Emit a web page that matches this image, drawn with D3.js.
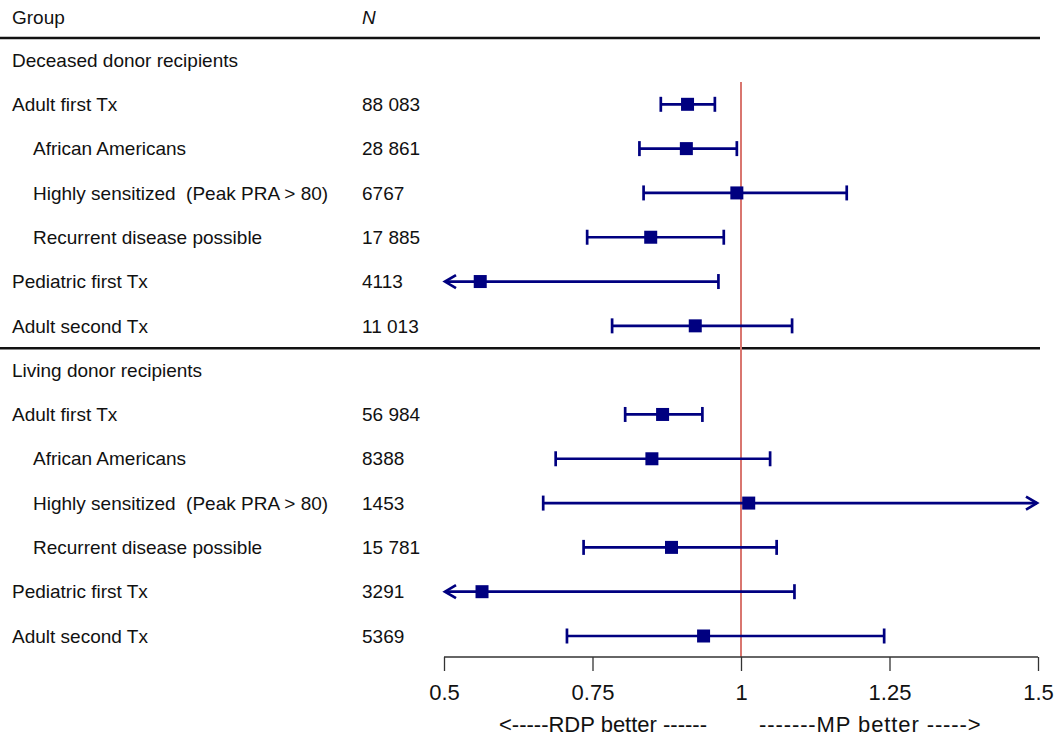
<!DOCTYPE html>
<html>

<head>
    <meta charset="utf-8" />
    <script src="https://d3js.org/d3.v7.min.js"></script>
    <style>
        body {
            margin: 0;
            background: #fff;
        }

        text {
            font-family: "Liberation Sans", Arial, sans-serif;
            fill: #111;
        }

        .ci {
            stroke: #000080;
            stroke-width: 2.7px;
            fill: none;
        }
    </style>
</head>

<body>
    <svg id="chart" width="1056" height="743"></svg>

    <script>
        // rows, top to bottom (section headers have no estimate)
        const labels = [
            "Deceased donor recipients",
            "Adult first Tx", "African Americans", "Highly sensitized  (Peak PRA > 80)",
            "Recurrent disease possible", "Pediatric first Tx", "Adult second Tx",
            "Living donor recipients",
            "Adult first Tx", "African Americans", "Highly sensitized  (Peak PRA > 80)",
            "Recurrent disease possible", "Pediatric first Tx", "Adult second Tx"
        ];
        const indent = [0, 0, 1, 1, 1, 0, 0, 0, 0, 1, 1, 1, 0, 0];
        const ns = ["", "88 083", "28 861", "6767", "17 885", "4113", "11 013",
            "", "56 984", "8388", "1453", "15 781", "3291", "5369"];
        // hazard ratio and 95% CI; null = beyond the axis (drawn as an arrow)
        const est = [null, 0.910, 0.908, 0.993, 0.848, 0.561, 0.923,
            null, 0.868, 0.850, 1.013, 0.883, 0.564, 0.937];
        const lo = [null, 0.865, 0.829, 0.836, 0.741, null, 0.783,
            null, 0.805, 0.688, 0.667, 0.735, null, 0.707];
        const hi = [null, 0.956, 0.993, 1.178, 0.971, 0.962, 1.086,
            null, 0.935, 1.049, null, 1.060, 1.090, 1.241];
        const ticks = [0.5, 0.75, 1, 1.25, 1.5];

        const svg = d3.select("#chart");
        const x = d3.scaleLinear().domain([0.5, 1.5]).range([444, 1038]);
        const y = d3.scalePoint().domain(d3.range(labels.length)).range([60, 636]);
        const navy = "#000080";
        const fs = "19px";

        // header
        svg.append("text").attr("x", 12).attr("y", 17).attr("dy", "0.35em")
            .style("font-size", fs).text("Group");
        svg.append("text").attr("x", 362).attr("y", 17).attr("dy", "0.35em")
            .style("font-size", fs).style("font-style", "italic").text("N");

        // separator rules
        [y(0) - 22, y(7) - 22].forEach(yy => {
            svg.append("line").attr("x1", 0).attr("x2", 1040)
                .attr("y1", yy).attr("y2", yy)
                .attr("stroke", "#111").attr("stroke-width", 2.5);
        });

        // reference line at 1
        svg.append("line").attr("x1", x(1)).attr("x2", x(1))
            .attr("y1", 82).attr("y2", 657)
            .attr("stroke", "#d9766f").attr("stroke-width", 2);

        const rows = svg.append("g").selectAll("g")
            .data(d3.range(labels.length))
            .join("g")
            .attr("transform", i => `translate(0,${y(i)})`);

        rows.append("text")
            .attr("x", i => indent[i] ? 33 : 12)
            .attr("dy", "0.35em")
            .style("font-size", fs)
            .style("white-space", "pre")
            .text(i => labels[i]);

        rows.append("text")
            .attr("x", 362)
            .attr("dy", "0.35em")
            .style("font-size", fs)
            .text(i => ns[i]);

        const est_rows = rows.filter(i => est[i] !== null);

        est_rows.append("line").attr("class", "ci")
            .attr("x1", i => lo[i] === null ? x(0.5) + 1 : x(lo[i]))
            .attr("x2", i => hi[i] === null ? x(1.5) - 1 : x(hi[i]));

        // end caps
        est_rows.filter(i => lo[i] !== null).append("line").attr("class", "ci")
            .attr("x1", i => x(lo[i])).attr("x2", i => x(lo[i]))
            .attr("y1", -7.5).attr("y2", 7.5);
        est_rows.filter(i => hi[i] !== null).append("line").attr("class", "ci")
            .attr("x1", i => x(hi[i])).attr("x2", i => x(hi[i]))
            .attr("y1", -7.5).attr("y2", 7.5);

        // open arrowheads for truncated intervals
        est_rows.filter(i => lo[i] === null).append("path").attr("class", "ci")
            .attr("d", () => `M${x(0.5) + 12},-6.5L${x(0.5) + 1},0L${x(0.5) + 12},6.5`);
        est_rows.filter(i => hi[i] === null).append("path").attr("class", "ci")
            .attr("d", () => `M${x(1.5) - 12},-6.5L${x(1.5) - 1},0L${x(1.5) - 12},6.5`);

        est_rows.append("rect")
            .attr("x", i => x(est[i]) - 6.5).attr("y", -6.5)
            .attr("width", 13).attr("height", 13)
            .attr("fill", navy);

        // x axis
        const axis = svg.append("g")
            .attr("transform", "translate(0,657)")
            .call(d3.axisBottom(x).tickValues(ticks).tickFormat(d3.format("")).tickSize(14).tickPadding(13));
        axis.select(".domain").attr("stroke", "#333").attr("stroke-width", 1.3)
            .attr("d", `M${x(0.5)},0H${x(1.5)}`);
        axis.selectAll(".tick line").attr("stroke", "#333").attr("stroke-width", 1.3);
        axis.selectAll(".tick text")
            .style("font-family", "Liberation Sans, Arial, sans-serif")
            .style("font-size", "22px").attr("fill", "#111");

        svg.append("text").attr("x", 499).attr("y", 732)
            .style("font-size", "22px").style("white-space", "pre")
            .text("<-----RDP better ------");
        svg.append("text").attr("x", 759).attr("y", 732)
            .style("font-size", "22px").style("white-space", "pre")
            .style("letter-spacing", "0.9px")
            .text("-------MP better ----->");
    </script>
</body>

</html>
